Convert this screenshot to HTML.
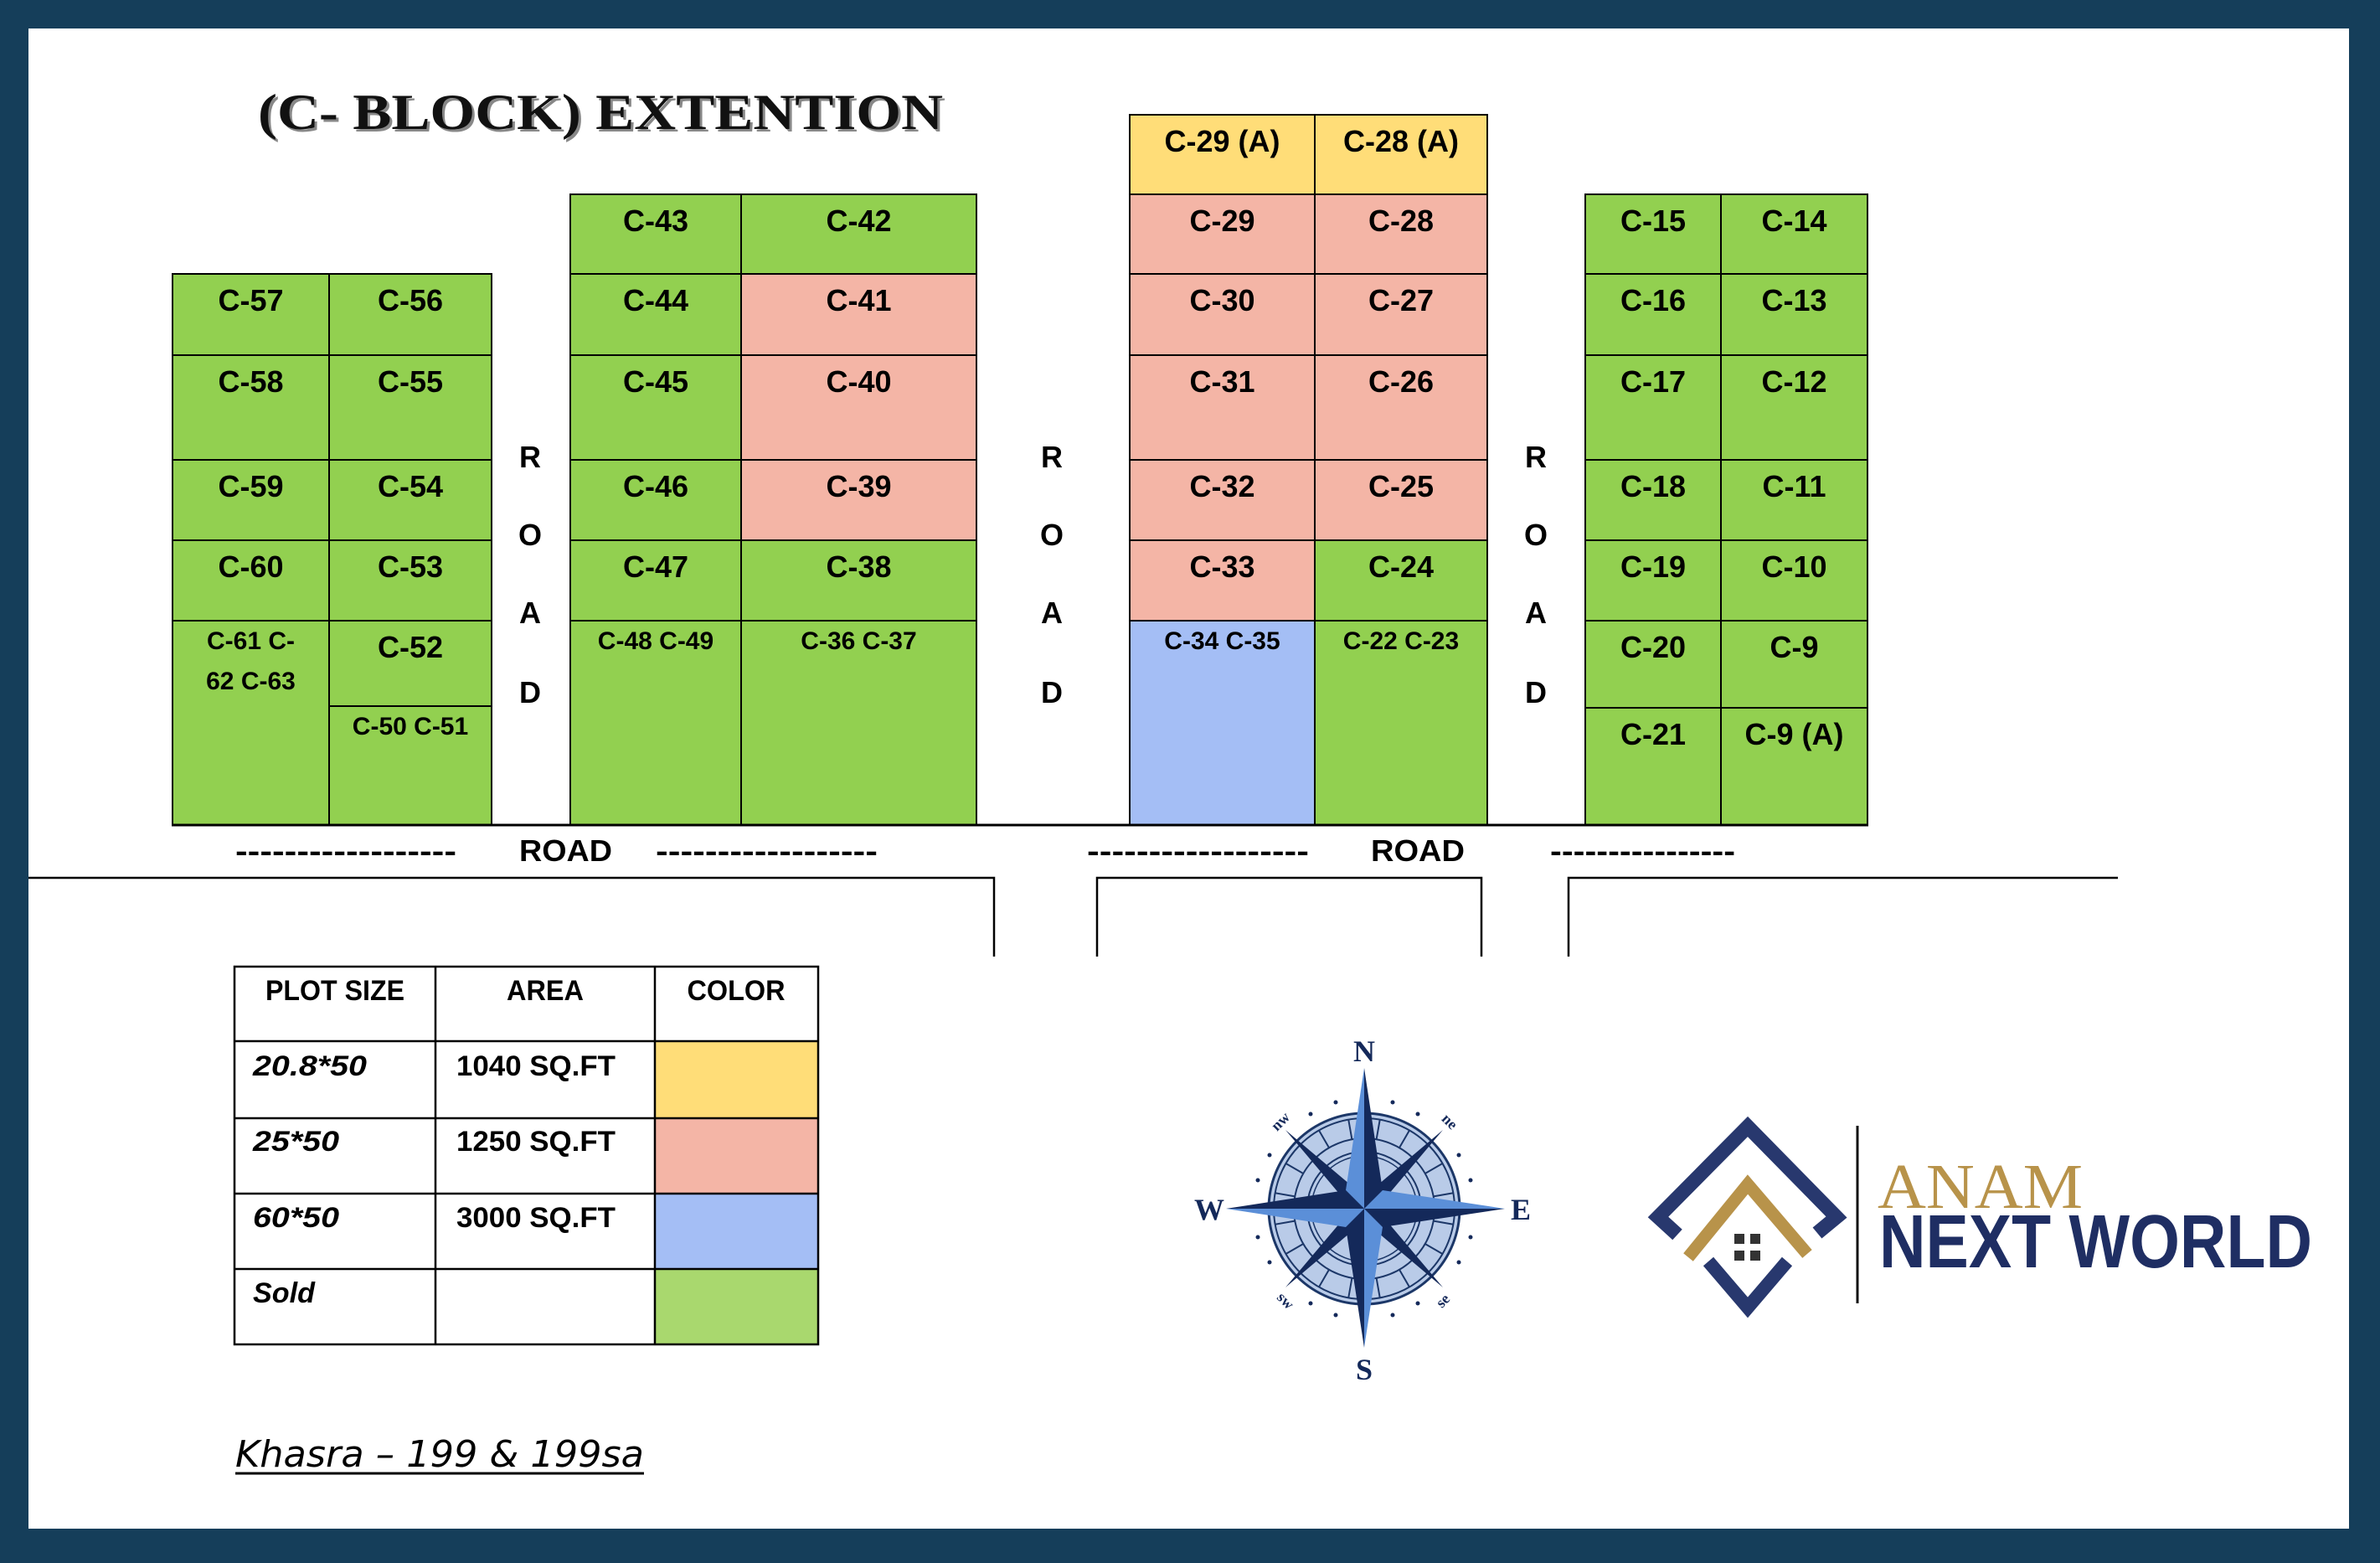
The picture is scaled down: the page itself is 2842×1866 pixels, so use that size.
<!DOCTYPE html>
<html><head><meta charset="utf-8"><style>
html,body{margin:0;padding:0}
body{width:2842px;height:1866px;background:#153e5a;position:relative;overflow:hidden;font-family:"Liberation Sans",sans-serif}
.w{position:absolute;left:34px;top:34px;width:2771px;height:1791px;background:#fff}
.c{position:absolute;box-sizing:border-box;border:2px solid #000;text-align:center;font-weight:bold;font-size:36px;line-height:40px;padding-top:11px;color:#000}
.s{font-size:30px;line-height:48px;padding-top:0}
.g{background:#92d050}.p{background:#f4b5a6}.y{background:#ffdd78}.b{background:#a4bef5}
svg{position:absolute;left:0;top:0}
</style></head><body>
<div class="w"></div>

<!-- Block 1 -->
<div class="c g" style="left:205px;top:326px;width:189px;height:99px">C-57</div>
<div class="c g" style="left:392px;top:326px;width:196px;height:99px">C-56</div>
<div class="c g" style="left:205px;top:423px;width:189px;height:127px">C-58</div>
<div class="c g" style="left:392px;top:423px;width:196px;height:127px">C-55</div>
<div class="c g" style="left:205px;top:548px;width:189px;height:98px">C-59</div>
<div class="c g" style="left:392px;top:548px;width:196px;height:98px">C-54</div>
<div class="c g" style="left:205px;top:644px;width:189px;height:98px">C-60</div>
<div class="c g" style="left:392px;top:644px;width:196px;height:98px">C-53</div>
<div class="c g s" style="left:205px;top:740px;width:189px;height:246px">C-61 C-<br>62 C-63</div>
<div class="c g" style="left:392px;top:740px;width:196px;height:104px">C-52</div>
<div class="c g s" style="left:392px;top:842px;width:196px;height:144px">C-50 C-51</div>

<!-- Block 2 -->
<div class="c g" style="left:680px;top:231px;width:206px;height:97px">C-43</div>
<div class="c g" style="left:884px;top:231px;width:283px;height:97px">C-42</div>
<div class="c g" style="left:680px;top:326px;width:206px;height:99px">C-44</div>
<div class="c p" style="left:884px;top:326px;width:283px;height:99px">C-41</div>
<div class="c g" style="left:680px;top:423px;width:206px;height:127px">C-45</div>
<div class="c p" style="left:884px;top:423px;width:283px;height:127px">C-40</div>
<div class="c g" style="left:680px;top:548px;width:206px;height:98px">C-46</div>
<div class="c p" style="left:884px;top:548px;width:283px;height:98px">C-39</div>
<div class="c g" style="left:680px;top:644px;width:206px;height:98px">C-47</div>
<div class="c g" style="left:884px;top:644px;width:283px;height:98px">C-38</div>
<div class="c g s" style="left:680px;top:740px;width:206px;height:246px">C-48 C-49</div>
<div class="c g s" style="left:884px;top:740px;width:283px;height:246px">C-36 C-37</div>

<!-- Block 3 -->
<div class="c y" style="left:1348px;top:136px;width:223px;height:97px">C-29 (A)</div>
<div class="c y" style="left:1569px;top:136px;width:208px;height:97px">C-28 (A)</div>
<div class="c p" style="left:1348px;top:231px;width:223px;height:97px">C-29</div>
<div class="c p" style="left:1569px;top:231px;width:208px;height:97px">C-28</div>
<div class="c p" style="left:1348px;top:326px;width:223px;height:99px">C-30</div>
<div class="c p" style="left:1569px;top:326px;width:208px;height:99px">C-27</div>
<div class="c p" style="left:1348px;top:423px;width:223px;height:127px">C-31</div>
<div class="c p" style="left:1569px;top:423px;width:208px;height:127px">C-26</div>
<div class="c p" style="left:1348px;top:548px;width:223px;height:98px">C-32</div>
<div class="c p" style="left:1569px;top:548px;width:208px;height:98px">C-25</div>
<div class="c p" style="left:1348px;top:644px;width:223px;height:98px">C-33</div>
<div class="c g" style="left:1569px;top:644px;width:208px;height:98px">C-24</div>
<div class="c b s" style="left:1348px;top:740px;width:223px;height:246px">C-34 C-35</div>
<div class="c g s" style="left:1569px;top:740px;width:208px;height:246px">C-22 C-23</div>

<!-- Block 4 -->
<div class="c g" style="left:1892px;top:231px;width:164px;height:97px">C-15</div>
<div class="c g" style="left:2054px;top:231px;width:177px;height:97px">C-14</div>
<div class="c g" style="left:1892px;top:326px;width:164px;height:99px">C-16</div>
<div class="c g" style="left:2054px;top:326px;width:177px;height:99px">C-13</div>
<div class="c g" style="left:1892px;top:423px;width:164px;height:127px">C-17</div>
<div class="c g" style="left:2054px;top:423px;width:177px;height:127px">C-12</div>
<div class="c g" style="left:1892px;top:548px;width:164px;height:98px">C-18</div>
<div class="c g" style="left:2054px;top:548px;width:177px;height:98px">C-11</div>
<div class="c g" style="left:1892px;top:644px;width:164px;height:98px">C-19</div>
<div class="c g" style="left:2054px;top:644px;width:177px;height:98px">C-10</div>
<div class="c g" style="left:1892px;top:740px;width:164px;height:106px">C-20</div>
<div class="c g" style="left:2054px;top:740px;width:177px;height:106px">C-9</div>
<div class="c g" style="left:1892px;top:844px;width:164px;height:142px">C-21</div>
<div class="c g" style="left:2054px;top:844px;width:177px;height:142px">C-9 (A)</div>

<svg width="2842" height="1866" viewBox="0 0 2842 1866">
 <!-- title -->
 <text x="308" y="154" font-family="Liberation Serif" font-weight="bold" font-size="60" textLength="818" lengthAdjust="spacingAndGlyphs" fill="#888" transform="translate(3,3)">(C- BLOCK) EXTENTION</text>
 <text x="308" y="154" font-family="Liberation Serif" font-weight="bold" font-size="60" textLength="818" lengthAdjust="spacingAndGlyphs" fill="#111">(C- BLOCK) EXTENTION</text>

 <!-- vertical ROAD -->
 <g font-family="Liberation Sans" font-weight="bold" font-size="36" text-anchor="middle" fill="#000">
  <text x="633" y="558">R</text><text x="633" y="651">O</text><text x="633" y="744">A</text><text x="633" y="839">D</text>
  <text x="1256" y="558">R</text><text x="1256" y="651">O</text><text x="1256" y="744">A</text><text x="1256" y="839">D</text>
  <text x="1834" y="558">R</text><text x="1834" y="651">O</text><text x="1834" y="744">A</text><text x="1834" y="839">D</text>
 </g>
 <line x1="205" y1="985" x2="2231" y2="985" stroke="#000" stroke-width="3"/>

 <!-- bottom road -->
 <g font-family="Liberation Sans" font-weight="bold" font-size="36" fill="#000">
  <text x="281" y="1028" textLength="264" lengthAdjust="spacingAndGlyphs">------------------</text>
  <text x="620" y="1028" textLength="111" lengthAdjust="spacingAndGlyphs">ROAD</text>
  <text x="783" y="1028" textLength="265" lengthAdjust="spacingAndGlyphs">------------------</text>
  <text x="1298" y="1028" textLength="265" lengthAdjust="spacingAndGlyphs">------------------</text>
  <text x="1637" y="1028" textLength="112" lengthAdjust="spacingAndGlyphs">ROAD</text>
  <text x="1851" y="1028" textLength="221" lengthAdjust="spacingAndGlyphs">----------------</text>
 </g>
 <g stroke="#000" stroke-width="2.5" fill="none">
  <polyline points="34,1048 1187,1048 1187,1142"/>
  <polyline points="1310,1142 1310,1048 1769,1048 1769,1142"/>
  <polyline points="1873,1142 1873,1048 2529,1048"/>
 </g>

 <!-- legend table -->
 <rect x="782" y="1243" width="195" height="92" fill="#ffdd78"/>
 <rect x="782" y="1335" width="195" height="90" fill="#f4b5a6"/>
 <rect x="782" y="1425" width="195" height="90" fill="#a4bef5"/>
 <rect x="782" y="1515" width="195" height="90" fill="#a9d86e"/>
 <g stroke="#000" stroke-width="2.5" fill="none">
  <rect x="280" y="1154" width="697" height="451"/>
  <line x1="520" y1="1154" x2="520" y2="1605"/><line x1="782" y1="1154" x2="782" y2="1605"/>
  <line x1="280" y1="1243" x2="977" y2="1243"/><line x1="280" y1="1335" x2="977" y2="1335"/>
  <line x1="280" y1="1425" x2="977" y2="1425"/><line x1="280" y1="1515" x2="977" y2="1515"/>
 </g>
 <g font-family="Liberation Sans" font-weight="bold" font-size="34" fill="#000">
  <text x="400" y="1194" text-anchor="middle" textLength="166" lengthAdjust="spacingAndGlyphs">PLOT SIZE</text>
  <text x="651" y="1194" text-anchor="middle" textLength="92" lengthAdjust="spacingAndGlyphs">AREA</text>
  <text x="879" y="1194" text-anchor="middle" textLength="117" lengthAdjust="spacingAndGlyphs">COLOR</text>
  <g font-style="italic">
   <text x="302" y="1284" textLength="136" lengthAdjust="spacingAndGlyphs">20.8*50</text>
   <text x="302" y="1374" textLength="103" lengthAdjust="spacingAndGlyphs">25*50</text>
   <text x="302" y="1465" textLength="103" lengthAdjust="spacingAndGlyphs">60*50</text>
   <text x="302" y="1555" textLength="74" lengthAdjust="spacingAndGlyphs">Sold</text>
  </g>
  <text x="545" y="1284" textLength="190" lengthAdjust="spacingAndGlyphs">1040 SQ.FT</text>
  <text x="545" y="1374" textLength="190" lengthAdjust="spacingAndGlyphs">1250 SQ.FT</text>
  <text x="545" y="1465" textLength="190" lengthAdjust="spacingAndGlyphs">3000 SQ.FT</text>
 </g>
 <text x="281" y="1751" font-family="DejaVu Sans" font-style="italic" font-size="44" textLength="488" lengthAdjust="spacingAndGlyphs" fill="#000">Khasra – 199 &amp; 199sa</text>
 <line x1="281" y1="1759" x2="769" y2="1759" stroke="#000" stroke-width="3"/>

 <!-- compass -->
 <g transform="translate(1629,1443)">
  <circle r="114" fill="#b9cbe8" stroke="#1c3768" stroke-width="3"/>
  <circle r="108" fill="none" stroke="#1c3768" stroke-width="2"/>
  <circle r="84" fill="none" stroke="#1c3768" stroke-width="2"/>
  <circle r="68" fill="none" stroke="#1c3768" stroke-width="2"/>
  <circle r="63" fill="none" stroke="#1c3768" stroke-width="1.5"/>
  <g stroke="#1c3768" stroke-width="2">
   <line x1="0" y1="-108" x2="0" y2="-84" transform="rotate(10)"/><line x1="0" y1="-108" x2="0" y2="-84" transform="rotate(30)"/>
   <line x1="0" y1="-108" x2="0" y2="-84" transform="rotate(60)"/><line x1="0" y1="-108" x2="0" y2="-84" transform="rotate(80)"/>
   <line x1="0" y1="-108" x2="0" y2="-84" transform="rotate(100)"/><line x1="0" y1="-108" x2="0" y2="-84" transform="rotate(120)"/>
   <line x1="0" y1="-108" x2="0" y2="-84" transform="rotate(150)"/><line x1="0" y1="-108" x2="0" y2="-84" transform="rotate(170)"/>
   <line x1="0" y1="-108" x2="0" y2="-84" transform="rotate(190)"/><line x1="0" y1="-108" x2="0" y2="-84" transform="rotate(210)"/>
   <line x1="0" y1="-108" x2="0" y2="-84" transform="rotate(240)"/><line x1="0" y1="-108" x2="0" y2="-84" transform="rotate(260)"/>
   <line x1="0" y1="-108" x2="0" y2="-84" transform="rotate(280)"/><line x1="0" y1="-108" x2="0" y2="-84" transform="rotate(300)"/>
   <line x1="0" y1="-108" x2="0" y2="-84" transform="rotate(330)"/><line x1="0" y1="-108" x2="0" y2="-84" transform="rotate(350)"/>
  </g>
  <g fill="#14295a">
   <polygon points="0,0 -18,-4 -94,-94 -4,-18" />
   <polygon points="0,0 -18,-4 -94,-94 -4,-18" transform="rotate(90)"/>
   <polygon points="0,0 -18,-4 -94,-94 -4,-18" transform="rotate(180)"/>
   <polygon points="0,0 -18,-4 -94,-94 -4,-18" transform="rotate(270)"/>
  </g>
  <g>
   <polygon points="0,-168 -22,-22 0,0" fill="#5b8fd8"/><polygon points="0,-168 22,-22 0,0" fill="#14295a"/>
   <polygon points="168,0 22,-22 0,0" fill="#5b8fd8"/><polygon points="168,0 22,22 0,0" fill="#14295a"/>
   <polygon points="0,166 22,22 0,0" fill="#5b8fd8"/><polygon points="0,166 -22,22 0,0" fill="#14295a"/>
   <polygon points="-165,0 -22,22 0,0" fill="#5b8fd8"/><polygon points="-165,0 -22,-22 0,0" fill="#14295a"/>
  </g>
  <g fill="#14295a" font-family="Liberation Serif" font-weight="bold" text-anchor="middle">
   <text x="0" y="-176" font-size="36">N</text>
   <text x="0" y="204" font-size="36">S</text>
   <text x="-185" y="13" font-size="36">W</text>
   <text x="187" y="13" font-size="36">E</text>
   <text x="-96" y="-100" font-size="18" transform="rotate(-45 -96 -100)">nw</text>
   <text x="98" y="-100" font-size="18" transform="rotate(45 98 -100)">ne</text>
   <text x="-98" y="114" font-size="18" transform="rotate(45 -98 114)">sw</text>
   <text x="98" y="114" font-size="18" transform="rotate(-45 98 114)">se</text>
  </g>
  <g fill="#14295a">
   <circle cx="-34" cy="-127" r="2.5"/><circle cx="34" cy="-127" r="2.5"/><circle cx="-64" cy="-113" r="2.5"/><circle cx="64" cy="-113" r="2.5"/>
   <circle cx="-34" cy="127" r="2.5"/><circle cx="34" cy="127" r="2.5"/><circle cx="-64" cy="113" r="2.5"/><circle cx="64" cy="113" r="2.5"/>
   <circle cx="-127" cy="-34" r="2.5"/><circle cx="-113" cy="-64" r="2.5"/><circle cx="127" cy="-34" r="2.5"/><circle cx="113" cy="-64" r="2.5"/>
   <circle cx="-127" cy="34" r="2.5"/><circle cx="-113" cy="64" r="2.5"/><circle cx="127" cy="34" r="2.5"/><circle cx="113" cy="64" r="2.5"/>
  </g>
 </g>

 <!-- logo -->
 <polyline points="2003,1474 1980,1453 2087,1345 2193,1453 2170,1472" fill="none" stroke="#28386e" stroke-width="17" stroke-linejoin="miter"/>
 <polyline points="2016,1501 2087,1414 2158,1497" fill="none" stroke="#b8934a" stroke-width="15" stroke-linejoin="miter"/>
 <polyline points="2040,1506 2087,1561 2134,1506" fill="none" stroke="#28386e" stroke-width="16" stroke-linejoin="miter"/>
 <g fill="#333">
  <rect x="2071" y="1473" width="12" height="12"/><rect x="2090" y="1473" width="12" height="12"/>
  <rect x="2071" y="1493" width="12" height="12"/><rect x="2090" y="1493" width="12" height="12"/>
 </g>
 <line x1="2218" y1="1344" x2="2218" y2="1556" stroke="#111" stroke-width="3"/>
 <text x="2242" y="1442" font-family="Liberation Serif" font-size="76" textLength="245" lengthAdjust="spacingAndGlyphs" fill="#b8934a">ANAM</text>
 <text x="2244" y="1513" font-family="Liberation Sans" font-weight="bold" font-size="90" textLength="517" lengthAdjust="spacingAndGlyphs" fill="#1f2e63">NEXT WORLD</text>
</svg>
</body></html>
